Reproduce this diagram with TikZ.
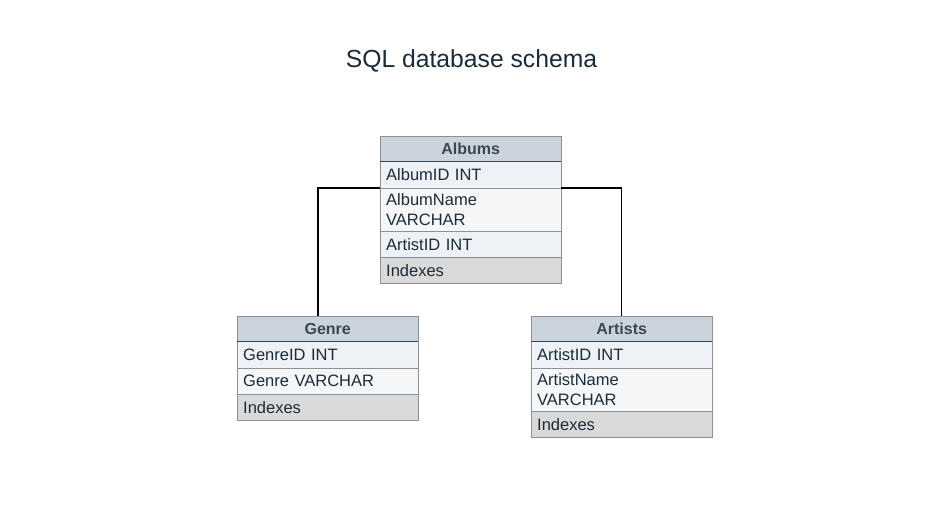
\documentclass[tikz,border=0pt]{standalone}
\usepackage{fontspec}
\setmainfont{Liberation Sans}
\usepackage{tikz}
\usetikzlibrary{positioning,calc}
\usepackage{xcolor}

\definecolor{headfill}{HTML}{CBD4DD}
\definecolor{rowfill}{HTML}{EEF1F5}
\definecolor{rowfillb}{HTML}{F5F6F8}
\definecolor{idxfill}{HTML}{D9D9D9}
\definecolor{edge}{HTML}{8C9196}
\definecolor{ink}{HTML}{1C2B39}
\definecolor{headink}{HTML}{3A4755}

\tikzset{
  tblhead/.style={draw=edge, fill=headfill, anchor=north west, minimum width=181pt, minimum height=25pt,
    inner sep=0pt, font=\fontsize{16}{19}\selectfont\bfseries, text=headink},
  tblrow/.style={draw=edge, fill=rowfill, anchor=north west, minimum width=181pt, minimum height=27pt,
    text width=169pt, inner xsep=6pt, inner ysep=0pt, align=left, font=\fontsize{16.5}{19.5}\selectfont, text=ink},
  tblidx/.style={tblrow, fill=idxfill, minimum height=26pt},
  link/.style={draw=black, line width=1.5pt}
}

\begin{document}
\begin{tikzpicture}[x=1pt,y=-1pt]
    \useasboundingbox[fill=white] (0,0) rectangle (937,523);

    % Title
    \node[font=\fontsize{24.7}{28}\selectfont, text=ink] (title) at (471.5,61) {SQL database schema};

    % Albums table
    \node[tblhead] (albums) at (380,136) {Albums};
    \node[tblrow] (albumid) at (380,161) {AlbumID INT};
    \node[tblrow, fill=rowfillb, minimum height=43pt] (albumname) at (380,188) {AlbumName\\VARCHAR};
    \node[tblrow] (albumartist) at (380,231) {ArtistID INT};
    \node[tblidx] (albumidx) at (380,257) {Indexes};
    \draw[headink, line width=1pt] (albums.south west) -- (albums.south east);

    % Genre table
    \node[tblhead] (genre) at (237,316) {Genre};
    \node[tblrow] (genreid) at (237,341) {GenreID INT};
    \node[tblrow, fill=rowfillb, minimum height=26pt] (genrename) at (237,368) {Genre VARCHAR};
    \node[tblidx] (genreidx) at (237,394) {Indexes};
    \draw[headink, line width=1pt] (genre.south west) -- (genre.south east);

    % Artists table
    \node[tblhead] (artists) at (531,316) {Artists};
    \node[tblrow] (artistid) at (531,341) {ArtistID INT};
    \node[tblrow, fill=rowfillb, minimum height=43pt] (artistname) at (531,368) {ArtistName\\VARCHAR};
    \node[tblidx] (artistidx) at (531,411) {Indexes};
    \draw[headink, line width=1pt] (artists.south west) -- (artists.south east);

    % Links
    \coordinate (genrein) at ($(genre.north west)+(81,0)$);
    \draw[link] (albumname.north west) -| (genrein);
    \draw[link] (albumname.north east) -| (artists.north);
\end{tikzpicture}
\end{document}
